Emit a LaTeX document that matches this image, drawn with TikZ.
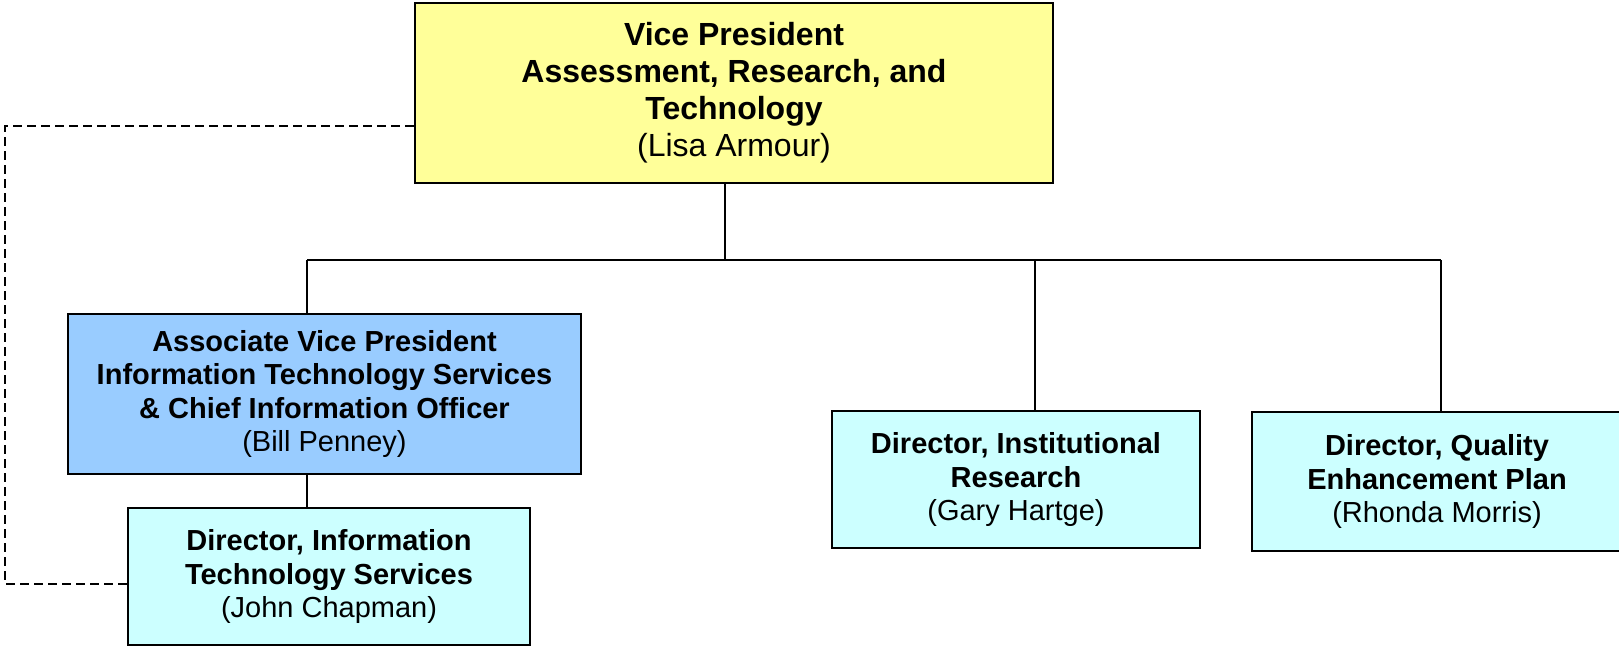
\documentclass[tikz,border=0pt]{standalone}
\usepackage{fontspec}
\setmainfont{Liberation Sans}
\usetikzlibrary{positioning}

\definecolor{vpyellow}{HTML}{FFFF99}
\definecolor{avpblue}{HTML}{99CCFF}
\definecolor{dircyan}{HTML}{CCFFFF}

\begin{document}
\begin{tikzpicture}[x=1pt,y=-1pt,color=black,every path/.append style={line width=2pt},
	orgbox/.style={draw,line width=2.2pt,align=center,inner sep=0pt,font=\fontsize{29}{33.5}\selectfont},
	dashlink/.style={dash pattern=on 9pt off 5pt}]
\useasboundingbox (0,0) rectangle (1619,646);

\node[orgbox,fill=vpyellow,minimum width=638,minimum height=180,font=\fontsize{32}{37}\selectfont] (vp) at (734,93)
	{\textbf{Vice President}\\\textbf{Assessment, Research, and}\\\textbf{Technology}\\(Lisa Armour)};
\node[orgbox,fill=avpblue,minimum width=513,minimum height=160] (avp) at (324.5,394)
	{\textbf{Associate Vice President}\\\textbf{Information Technology Services}\\\textbf{\& Chief Information Officer}\\(Bill Penney)};
\node[orgbox,fill=dircyan,minimum width=402,minimum height=137] (dits) at (329,576.5)
	{\textbf{Director, Information}\\\textbf{Technology Services}\\(John Chapman)};
\node[orgbox,fill=dircyan,minimum width=368,minimum height=137] (ir) at (1016,479.5)
	{\textbf{Director, Institutional}\\\textbf{Research}\\(Gary Hartge)};
\node[orgbox,fill=dircyan,minimum width=370,minimum height=139] (qep) at (1437,481.5)
	{\textbf{Director, Quality}\\\textbf{Enhancement Plan}\\(Rhonda Morris)};

\coordinate (busL) at (307,260);
\coordinate (busR) at (1441,260);
\coordinate (vpfoot) at (725,260);
\coordinate (irtop) at (1035,260);
\draw (vpfoot |- vp.south) -- (vpfoot);
\draw (busL) -- (busR);
\draw (busL) -- (busL |- avp.north);
\draw (busL |- avp.south) -- (busL |- dits.north);
\draw (irtop) -- (irtop |- ir.north);
\draw (busR) -- (busR |- qep.north);

% dotted-line report
\coordinate (dashTop) at (5,126);
\coordinate (dashBot) at (5,584);
\draw[dashlink] (dashTop -| vp.west) -- (dashTop) -- (dashBot) -- (dashBot -| dits.west);
\end{tikzpicture}
\end{document}
